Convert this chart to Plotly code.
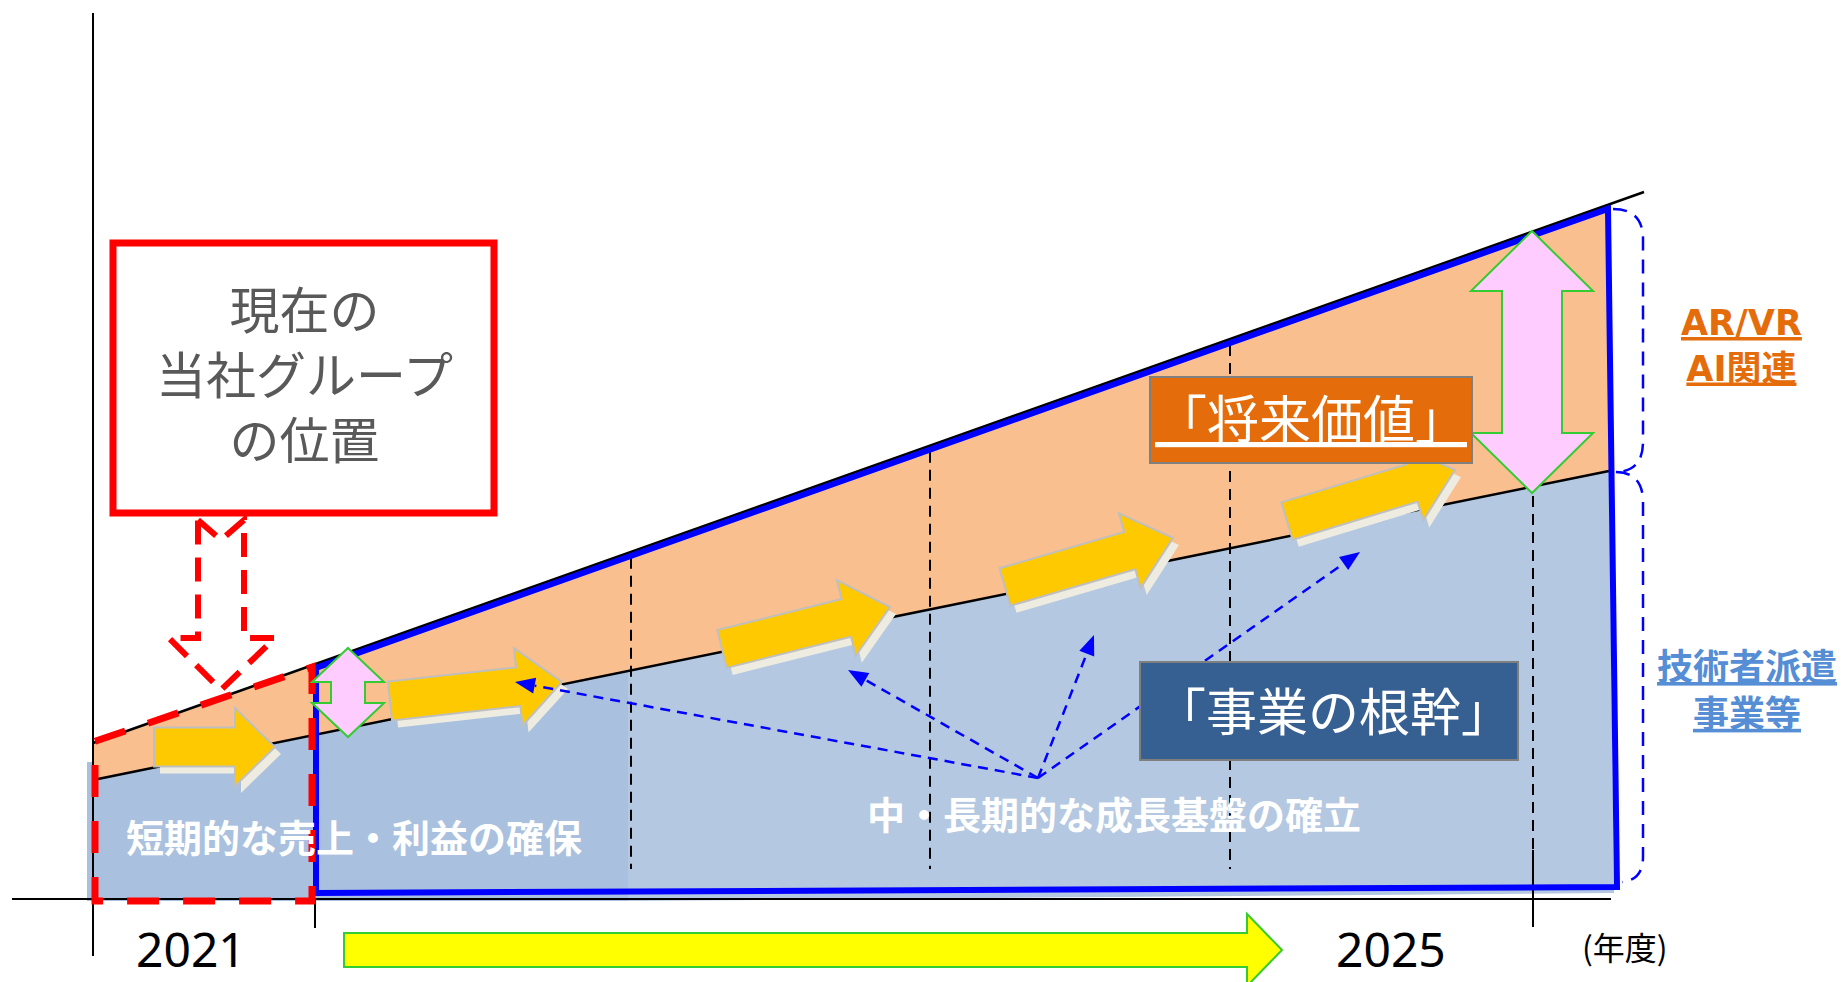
import numpy as np
import plotly.graph_objects as go

W, H = 1845, 982

# ---- timeline -------------------------------------------------------------
year_labels = ["2021", "2025"]
year_label_x = [191, 1391]
year_label_y = 948
year_ticks_x = [315, 1533]
divider_x = [631, 930, 1230, 1533]          # dashed period dividers
axis_origin = (93, 899)

# ---- growth bands (end points of the two boundary lines) ------------------
value_line_x = [93, 1644]                   # upper line: total value
value_line_y = [743, 192]
base_line_x = [93, 1609]                    # lower line: core business
base_line_y = [780, 471]

# ---- step arrows along the band boundary (tail centre, tip) ---------------
step_tail = [(154, 747), (390, 701), (722, 649), (1005, 587), (1287, 521)]
step_tip = [(275, 747), (562, 682), (890, 607), (1173, 538), (1455, 470)]
step_head_len = [40, 44, 45, 45, 45]

# ---- growth-foundation pointers -------------------------------------------
hub = (1038, 778)
pointer_targets = [(515, 682), (848, 670), (1094, 635), (1360, 552)]

# ---- texts ------------------------------------------------------------------
position_lines = ["現在の", "当社グループ", "の位置"]
future_label = "「将来価値」"
core_label = "「事業の根幹」"
short_term_text = "短期的な売上・利益の確保"
long_term_text = "中・長期的な成長基盤の確立"
upper_segment = ["AR/VR", "AI関連"]
lower_segment = ["技術者派遣", "事業等"]
unit_text = "(年度)"

JP = "Noto Sans CJK JP"

def top_y(x):
    return float(np.interp(x, value_line_x, value_line_y))

def base_y(x):
    return float(np.interp(x, base_line_x, base_line_y))

def path_of(pts, close=True):
    s = "M " + " L ".join(f"{x:.1f},{y:.1f}" for x, y in pts)
    return s + (" Z" if close else "")

shapes = []

def add_path(pts, fill=None, color=None, width=0, dash=None, close=True):
    line = dict(width=width)
    if color is not None and width > 0:
        line["color"] = color
    else:
        line["width"] = 0
    if dash:
        line["dash"] = dash
    shapes.append(dict(type="path", xref="x", yref="y", path=path_of(pts, close),
                       fillcolor=fill if fill else "rgba(0,0,0,0)", line=line))

def add_line(p0, p1, color, width, dash=None):
    line = dict(color=color, width=width)
    if dash:
        line["dash"] = dash
    shapes.append(dict(type="line", xref="x", yref="y", x0=p0[0], y0=p0[1],
                       x1=p1[0], y1=p1[1], line=line))

def block_arrow(tail, tip, body_w, head_w, head_len):
    t = np.array(tail, float)
    p = np.array(tip, float)
    u = (p - t) / np.linalg.norm(p - t)
    n = np.array([-u[1], u[0]])
    b = p - u * head_len
    return [t + n * body_w / 2, b + n * body_w / 2, b + n * head_w / 2, p,
            b - n * head_w / 2, b - n * body_w / 2, t - n * body_w / 2]

def double_arrow(cx, top, bottom, head_hw, shaft_hw, head_len):
    return [(cx, top), (cx + head_hw, top + head_len), (cx + shaft_hw, top + head_len),
            (cx + shaft_hw, bottom - head_len), (cx + head_hw, bottom - head_len),
            (cx, bottom), (cx - head_hw, bottom - head_len), (cx - shaft_hw, bottom - head_len),
            (cx - shaft_hw, top + head_len), (cx - head_hw, top + head_len)]

x0 = value_line_x[0]
x_end = base_line_x[1]
split = 628
floor = 901

# band fills
add_path([(87, 762), (x0, 762), (x0, base_y(x0)), (split, base_y(split)),
          (split, floor), (87, floor)], fill="#A9C0DE")
add_path([(split, base_y(split)), (x_end, base_y(x_end)), (1614, 893), (split, floor)],
         fill="#B4C8E1")
add_path([(x0, top_y(x0)), (x_end, top_y(x_end)), (x_end, base_y(x_end)), (x0, base_y(x0))],
         fill="#F9BF8F")

# axes
add_line((axis_origin[0], 13), (axis_origin[0], 956), "black", 2)
add_line((12, axis_origin[1]), (1611, axis_origin[1]), "black", 2)
add_line((year_ticks_x[0], axis_origin[1]), (year_ticks_x[0], 928), "black", 2)
add_line((year_ticks_x[1], 850), (year_ticks_x[1], 927), "black", 2)

# period dividers
for dx in divider_x:
    start = top_y(dx) + 6 if dx < 1500 else 496
    end = 869 if dx < 1500 else 850
    add_line((dx, start), (dx, end), "black", 2, dash="11px,7px")

# boundary lines
add_line((value_line_x[0], value_line_y[0]), (value_line_x[1], value_line_y[1]), "black", 2.5)
add_line((base_line_x[0], base_line_y[0]), (base_line_x[1], base_line_y[1]), "black", 2.5)

# step arrows with their light shadows
for tail, tip, hl in zip(step_tail, step_tip, step_head_len):
    pts = block_arrow(tail, tip, 39, 78, hl)
    add_path([(x + 6, y + 7) for x, y in pts], fill="#EEECE1")
    add_path(pts, fill="#FFC900", color="#BFBFBF", width=2)

# pointers from the hub
for tx, ty in pointer_targets:
    h = np.array(hub, float)
    t = np.array((tx, ty), float)
    u = (t - h) / np.linalg.norm(t - h)
    n = np.array([-u[1], u[0]])
    b = t - u * 20
    add_line(hub, tuple(b), "#0000FF", 2.5, dash="10px,7px")
    add_path([t, b + n * 8, b - n * 8], fill="#0000FF")

# core-business frame
add_path([(316, top_y(316) + 4), (1608, top_y(1608) + 4), (1617, 887), (316, 893)],
         color="#0000FF", width=6)

# current-position frame
add_path([(95, top_y(95) - 1), (312, top_y(312) + 2), (312, floor), (95, floor)],
         color="#FF0000", width=7, dash="32px,24px")

# gap arrows
add_path(double_arrow(348, 648, 737, 36, 17, 34), fill="#FFCCFF", color="#33CC33", width=2)
add_path(double_arrow(1532, 231, 493, 61, 30, 60), fill="#FFCCFF", color="#33CC33", width=2)

# segment bracket
shapes.append(dict(type="path", xref="x", yref="y",
                   path="M 1613,209 Q 1643,209 1643,239 L 1643,442 Q 1643,472 1615,472 "
                        "Q 1643,472 1643,502 L 1643,857 Q 1643,880 1622,882",
                   line=dict(color="#0000FF", width=2.5, dash="14px,9px")))

# position call-out
shapes.append(dict(type="rect", xref="x", yref="y", x0=113, y0=243, x1=494, y1=513,
                   fillcolor="white", line=dict(color="#FF0000", width=7)))
add_path([(198, 520), (221, 540), (244, 520), (244, 638), (275, 638), (221, 690),
          (169, 638), (198, 638)], color="#FF0000", width=6, dash="24px,13px")

# label boxes
shapes.append(dict(type="rect", xref="x", yref="y", x0=1150, y0=377, x1=1472, y1=463,
                   fillcolor="#E46C0A", line=dict(color="#7F7F7F", width=2)))
shapes.append(dict(type="rect", xref="x", yref="y", x0=1140, y0=662, x1=1518, y1=760,
                   fillcolor="#376092", line=dict(color="#7F7F7F", width=2)))

# bottom period arrow
add_path([(344, 933), (1247, 933), (1247, 914), (1282, 950), (1247, 986), (1247, 967), (344, 967)],
         fill="#FFFF00", color="#33CC33", width=2)

annotations = []

def label(x, y, text, size, color, family=JP, bold=False):
    annotations.append(dict(x=x, y=y, xref="x", yref="y", text=text, showarrow=False,
                            xanchor="center", yanchor="middle", align="center",
                            font=dict(family=family, size=size, color=color,
                                      weight="bold" if bold else "normal")))

label(304, 372, "<br>".join(position_lines), 50, "#595959")

label(1311, 416, f"<u>{future_label}</u>", 52, "white")
label(1333, 709, core_label, 51, "white")
label(354, 835, short_term_text, 38, "white", bold=True)
label(1114, 812, long_term_text, 38, "white", bold=True)

label(1741, 346, "<br>".join(f"<u>{s}</u>" for s in upper_segment), 35, "#E46C0A",
      family="DejaVu Sans, " + JP, bold=True)
label(1747, 687, "<br>".join(f"<u>{s}</u>" for s in lower_segment), 36, "#558ED5", bold=True)

for yl, xl in zip(year_labels, year_label_x):
    label(xl, year_label_y, yl, 48, "black", family="Noto Sans")
label(1625, 946, unit_text, 32, "black")

fig = go.Figure(go.Scatter(x=[0, W], y=[0, H], mode="markers", marker=dict(opacity=0),
                           hoverinfo="skip", showlegend=False))
fig.update_layout(width=W, height=H, margin=dict(l=0, r=0, t=0, b=0),
                  paper_bgcolor="white", plot_bgcolor="white",
                  shapes=shapes, annotations=annotations, showlegend=False)
fig.update_xaxes(range=[0, W], visible=False, fixedrange=True)
fig.update_yaxes(range=[H, 0], visible=False, fixedrange=True)
fig.write_html("out.html")
